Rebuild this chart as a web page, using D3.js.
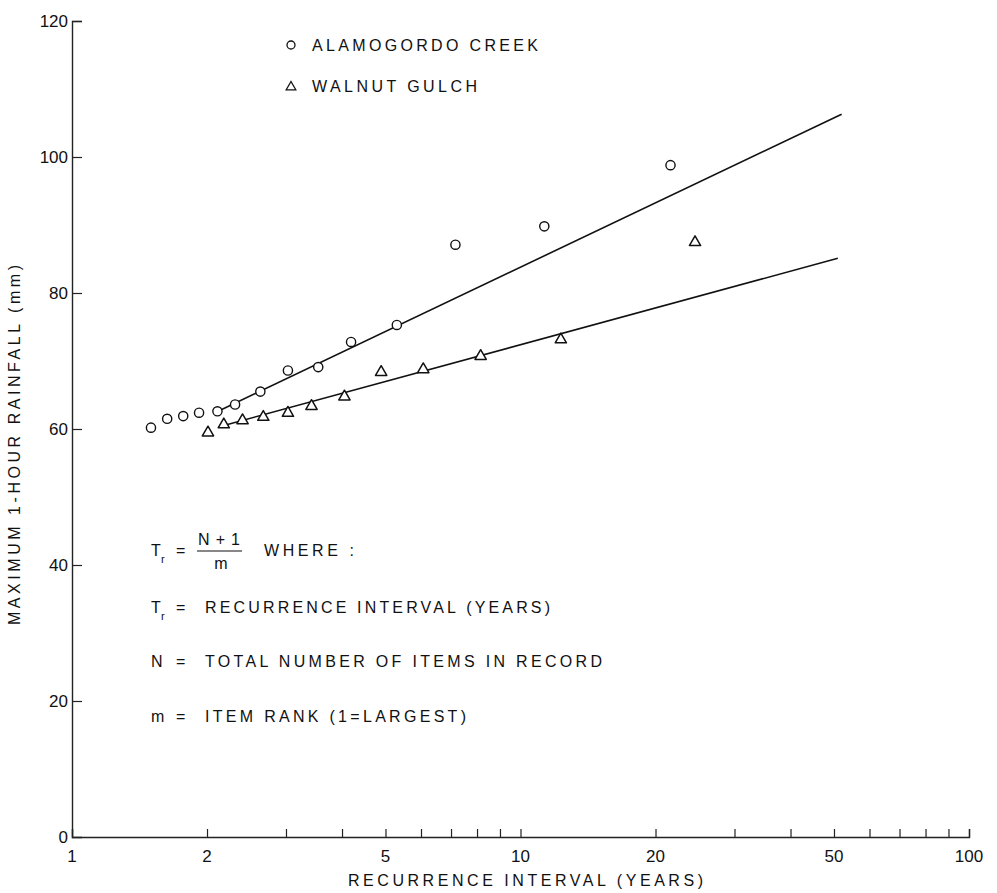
<!DOCTYPE html>
<html><head><meta charset="utf-8">
<script src="https://cdn.jsdelivr.net/npm/d3@7/dist/d3.min.js"></script>
<style>
html,body{margin:0;padding:0;background:#fff;}
text{font-family:"Liberation Sans","DejaVu Sans",sans-serif;fill:#111;}
</style></head>
<body>
<svg id="c" width="997" height="893"></svg>
<script>
// ---- data ----
const alamoT = [1.50, 1.63, 1.77, 1.92, 2.11, 2.31, 2.63, 3.03, 3.54, 4.19, 5.30, 7.16, 11.3, 21.6];
const alamoP = [60.2, 61.5, 61.9, 62.4, 62.6, 63.6, 65.5, 68.6, 69.1, 72.8, 75.3, 87.1, 89.8, 98.8];
const walnutT = [2.01, 2.18, 2.40, 2.67, 3.03, 3.42, 4.05, 4.89, 6.07, 8.15, 12.3, 24.5];
const walnutP = [59.6, 60.8, 61.4, 61.9, 62.5, 63.5, 64.9, 68.5, 68.9, 70.85, 73.3, 87.6];
const alamoLineT = [2.1, 52];
const alamoLineP = [62.5, 106.3];
const walnutLineT = [2.12, 51];
const walnutLineP = [60.3, 85.1];
const xTickLabels = [1, 2, 5, 10, 20, 50, 100];
const xTicks = [1, 2, 3, 4, 5, 6, 7, 8, 9, 10, 20, 30, 40, 50, 60, 70, 80, 90, 100];
const yTicks = [0, 20, 40, 60, 80, 100, 120];
const legendNames = ["ALAMOGORDO CREEK", "WALNUT GULCH"];
const noteLines = ["RECURRENCE INTERVAL (YEARS)", "TOTAL NUMBER OF ITEMS IN RECORD", "ITEM RANK (1=LARGEST)"];

const svg = d3.select("#c");
svg.append("rect").attr("width", 997).attr("height", 893).attr("fill", "#fff");

const x = d3.scaleLog().domain([1, 100]).range([72, 969]);
const y = d3.scaleLinear().domain([0, 120]).range([837, 21]);

// axes
const xAxis = d3.axisTop(x).tickValues(xTicks).tickSize(8).tickFormat("");
const gx = svg.append("g").attr("transform", `translate(0,${y(0)})`).call(xAxis);
const yAxis = d3.axisRight(y).tickValues(yTicks.slice(1)).tickSize(10).tickFormat("");
const gy = svg.append("g").attr("transform", `translate(${x(1)},0)`).call(yAxis);
[gx, gy].forEach(g => {
  g.select(".domain").attr("stroke", "#222").attr("stroke-width", 1.4);
  g.selectAll(".tick line").attr("stroke", "#222").attr("stroke-width", 1.2);
});

// tick labels
svg.append("g").selectAll("text").data(xTickLabels).join("text")
  .attr("x", d => x(d)).attr("y", y(0) + 25)
  .attr("text-anchor", "middle").attr("font-size", 17)
  .text(d => d);
svg.append("g").selectAll("text").data(yTicks).join("text")
  .attr("x", x(1) - 4).attr("y", d => y(d) + 6)
  .attr("text-anchor", "end").attr("font-size", 17)
  .text(d => d);

// axis titles
svg.append("text").attr("x", 348).attr("y", 886)
  .attr("font-size", 16).attr("textLength", 355)
  .text("RECURRENCE INTERVAL (YEARS)");
svg.append("text").attr("transform", "translate(20,625) rotate(-90)")
  .attr("font-size", 16).attr("textLength", 360)
  .text("MAXIMUM 1-HOUR RAINFALL (mm)");

// fitted lines
const line = d3.line().x(d => x(d[0])).y(d => y(d[1]));
svg.append("path").datum(alamoLineT.map((t, i) => [t, alamoLineP[i]]))
  .attr("d", line).attr("fill", "none").attr("stroke", "#111").attr("stroke-width", 1.6);
svg.append("path").datum(walnutLineT.map((t, i) => [t, walnutLineP[i]]))
  .attr("d", line).attr("fill", "none").attr("stroke", "#111").attr("stroke-width", 1.6);

// points
const tri = d3.symbol().type(d3.symbolTriangle).size(55);
svg.append("g").selectAll("circle").data(alamoT.map((t, i) => [t, alamoP[i]])).join("circle")
  .attr("cx", d => x(d[0])).attr("cy", d => y(d[1])).attr("r", 4.6)
  .attr("fill", "#fff").attr("stroke", "#111").attr("stroke-width", 1.4);
svg.append("g").selectAll("path").data(walnutT.map((t, i) => [t, walnutP[i]])).join("path")
  .attr("d", tri).attr("transform", d => `translate(${x(d[0])},${y(d[1]) + 1})`)
  .attr("fill", "#fff").attr("stroke", "#111").attr("stroke-width", 1.5).attr("stroke-linejoin", "round");

// legend
const legendLen = [226, 165];
const legendY = [45, 86];
const lg = svg.append("g");
lg.append("circle").attr("cx", 291).attr("cy", legendY[0]).attr("r", 4).attr("fill", "#fff").attr("stroke", "#111").attr("stroke-width", 1.3);
lg.append("path").attr("d", d3.symbol().type(d3.symbolTriangle).size(40)).attr("transform", `translate(291,${legendY[1] + 1})`)
  .attr("fill", "#fff").attr("stroke", "#111").attr("stroke-width", 1.3);
lg.selectAll("text").data(legendNames).join("text")
  .attr("x", 312).attr("y", (d, i) => legendY[i] + 6).attr("font-size", 16)
  .attr("textLength", (d, i) => legendLen[i])
  .text(d => d);

// formula block
const fb = svg.append("g").attr("font-size", 16);
fb.append("text").attr("x", 151).attr("y", 556).text("T");
fb.append("text").attr("x", 161).attr("y", 563).attr("font-size", 11).text("r");
fb.append("text").attr("x", 176).attr("y", 556).text("=");
fb.append("text").attr("x", 198).attr("y", 545).attr("textLength", 42).text("N+1");
fb.append("line").attr("x1", 197).attr("x2", 242).attr("y1", 551).attr("y2", 551).attr("stroke", "#111").attr("stroke-width", 1.2);
fb.append("text").attr("x", 221).attr("y", 569).attr("text-anchor", "middle").text("m");
fb.append("text").attr("x", 264).attr("y", 556).attr("textLength", 90).text("WHERE :");

const prefixes = [["T", "r"], ["N", ""], ["m", ""]];
const ys = [613, 667, 722];
const noteLen = [345, 397, 261];
noteLines.forEach((s, i) => {
  fb.append("text").attr("x", 151).attr("y", ys[i]).text(prefixes[i][0]);
  if (prefixes[i][1]) fb.append("text").attr("x", 161).attr("y", ys[i] + 7).attr("font-size", 11).text(prefixes[i][1]);
  fb.append("text").attr("x", 176).attr("y", ys[i]).text("=");
  fb.append("text").attr("x", 205).attr("y", ys[i]).attr("textLength", noteLen[i]).text(s);
});
</script>
</body></html>
